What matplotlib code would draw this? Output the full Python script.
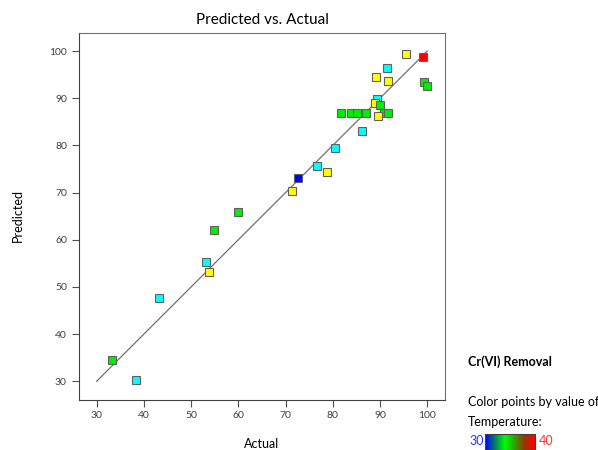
import numpy as np
import matplotlib
matplotlib.use("Agg")
import matplotlib.pyplot as plt
from matplotlib.colors import LinearSegmentedColormap

plt.rcParams['font.family'] = ['Lato', 'DejaVu Sans']

# actual vs predicted Cr(VI) removal, coloured by temperature level
actual = [99.2, 95.5, 91.5, 89.1, 91.8, 99.3, 99.9, 89.3, 89.0, 90.1,
          81.8, 83.8, 85.1, 87.0, 90.8, 91.7,
          89.5, 86.2, 80.5, 76.6, 78.8, 72.6, 71.3,
          59.9, 54.8, 53.1, 53.8, 43.1, 33.2, 38.3]
predicted = [98.8, 99.4, 96.5, 94.5, 93.7, 93.5, 92.7, 89.9, 89.0, 88.6,
             86.8, 86.8, 86.8, 86.8, 86.8, 86.8,
             86.2, 83.0, 79.4, 75.6, 74.3, 73.1, 70.3,
             65.8, 62.0, 55.3, 53.1, 47.6, 34.6, 30.3]
temperature = [40, 37.5, 32.5, 37.5, 37.5, 35, 35, 32.5, 37.5, 35,
               35, 35, 35, 35, 35, 35,
               37.5, 32.5, 32.5, 32.5, 37.5, 30, 37.5,
               35, 35, 32.5, 37.5, 32.5, 35, 32.5]
level_colors = {30: '#0000ff', 32.5: '#00ffff', 35: '#00ee00', 37.5: '#ffff00', 40: '#ff0000'}
xticks = [30, 40, 50, 60, 70, 80, 90, 100]
yticks = [30, 40, 50, 60, 70, 80, 90, 100]

fig = plt.figure(figsize=(5.98, 4.5), dpi=100)
ax = fig.add_axes([0.1316, 0.1118, 0.6124, 0.8155])

ax.plot([30, 100], [30, 100], color='#707070', lw=0.9, zorder=1)
for xa, yp, t in zip(actual, predicted, temperature):
    ax.plot(xa, yp, 's', ms=6.3, mfc=level_colors[t], mec='#606060', mew=0.8, zorder=3)

ax.set_xlim(26.2, 103.75)
ax.set_ylim(26.1, 103.9)
ax.set_xticks(xticks)
ax.set_yticks(yticks)
ax.tick_params(direction='out', length=5, width=0.8, colors='#505050', labelsize=7.5, labelcolor='#404040')
for s in ['left', 'bottom']:
    ax.spines[s].set_color('#404040')
for s in ['top', 'right']:
    ax.spines[s].set_color('#707070')

fig.text(262/598, 1 - 20/450, 'Predicted vs. Actual', fontsize=11, ha='center', va='center')
fig.text(262/598, 1 - 444/450, 'Actual', fontsize=9, ha='center', va='center')
fig.text(18/598, 1 - 216/450, 'Predicted', fontsize=9, ha='center', va='center', rotation=90)

fig.text(468/598, 1 - 362/450, 'Cr(VI) Removal', fontsize=9, fontweight='bold', va='center')
fig.text(468/598, 1 - 402/450, 'Color points by value of', fontsize=9, va='center')
fig.text(468/598, 1 - 422/450, 'Temperature:', fontsize=9, va='center')
fig.text(469/598, 1 - 441/450, '30', fontsize=9, color='#3030ff', va='center')
fig.text(539/598, 1 - 441/450, '40', fontsize=9, color='#ff3030', va='center')

cmap = LinearSegmentedColormap.from_list('temp', ['#0000ff', '#008060', '#00ff00', '#30a000', '#a03000', '#ff0000'])
cax = fig.add_axes([485/598, 0.0, 50/598, 16.5/450])
cax.imshow(np.linspace(0, 1, 200)[None, :], aspect='auto', cmap=cmap)
cax.set_xticks([])
cax.set_yticks([])
for s in cax.spines.values():
    s.set_color('#404040')

fig.savefig('out.png', dpi=100)
